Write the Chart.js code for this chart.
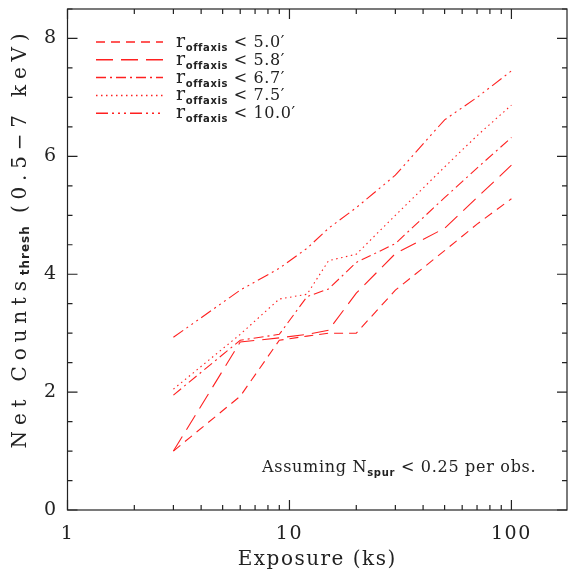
<!DOCTYPE html>
<html>
<head>
<meta charset="utf-8">
<script src="https://cdn.jsdelivr.net/npm/chart.js@4/dist/chart.umd.min.js"></script>
<style>
  html, body { margin: 0; padding: 0; background: #fff; }
  #wrap { width: 569px; height: 576px; }
</style>
</head>
<body>
<div id="wrap"><canvas id="chart" width="569" height="576"></canvas></div>
<script>
// exposure times (ks)
const exposures = [3, 6, 9, 12, 15, 20, 30, 50, 70, 100];

// threshold net counts for each off-axis radius cut
const r50 = [1.0, 1.93, 2.88, 2.95, 3.0, 3.0, 3.73, 4.4, 4.85, 5.28];
const r58 = [1.0, 2.85, 2.92, 2.98, 3.05, 3.68, 4.35, 4.78, 5.3, 5.85];
const r67 = [1.95, 2.88, 2.98, 3.62, 3.75, 4.2, 4.52, 5.3, 5.8, 6.32];
const r75 = [2.05, 2.98, 3.58, 3.66, 4.23, 4.34, 5.0, 5.82, 6.35, 6.87];
const r100 = [2.93, 3.73, 4.1, 4.44, 4.78, 5.13, 5.68, 6.62, 7.0, 7.45];

const radii = ['5.0', '5.8', '6.7', '7.5', '10.0'];
const xTickLabels = [1, 10, 100];
const yTickLabels = [0, 2, 4, 6, 8];

const RED = '#ff2020';
const INK = '#222';
const SERIF = '"DejaVu Serif", serif';
const SUB = 'bold 10px "DejaVu Sans", sans-serif';

const series = [r50, r58, r67, r75, r100];
const dashes = [
    [9, 6],
    [17, 8],
    [10, 4, 2, 4],
    [1.5, 3.5],
    [12, 4, 2, 4, 2, 4, 2, 4]
];

const datasets = series.map((vals, i) => ({
    label: 'r < ' + radii[i],
    data: exposures.map((x, j) => ({ x: x, y: vals[j] })),
    borderColor: RED,
    borderWidth: 1.1,
    borderDash: dashes[i],
    pointRadius: 0,
    fill: false,
    tension: 0
}));

// draws sub-scripted text pieces in a row, returns total width
function drawParts(ctx, parts, x, y, measureOnly) {
    let cx = x;
    parts.forEach(p => {
        ctx.font = p.font;
        if (p.spacing) ctx.letterSpacing = p.spacing;
        if (!measureOnly) ctx.fillText(p.text, cx, y + (p.dy || 0));
        cx += ctx.measureText(p.text).width;
    });
    return cx - x;
}

const framePlugin = {
    id: 'frame',
    beforeDraw(chart) {
        chart.ctx.letterSpacing = '1.5px';
    },
    afterDraw(chart) {
        const ctx = chart.ctx;
        const a = chart.chartArea;
        const xs = chart.scales.x;
        const ys = chart.scales.y;
        ctx.save();
        ctx.strokeStyle = INK;
        ctx.lineWidth = 1.2;
        ctx.setLineDash([]);
        ctx.strokeRect(a.left, a.top, a.right - a.left, a.bottom - a.top);

        // y ticks, major every 2, minor every 0.5
        ctx.beginPath();
        for (let v = 0; v <= 8.5; v += 0.5) {
            const py = ys.getPixelForValue(v);
            const len = (v % 2 === 0) ? 10 : 5;
            ctx.moveTo(a.left, py); ctx.lineTo(a.left + len, py);
            ctx.moveTo(a.right, py); ctx.lineTo(a.right - len, py);
        }
        // x ticks on log scale
        for (let d = 1; d <= 100; d *= 10) {
            for (let m = 1; m <= 9; m++) {
                const v = d * m;
                if (v > xs.max) break;
                const px = xs.getPixelForValue(v);
                const len = m === 1 ? 10 : 5;
                ctx.moveTo(px, a.bottom); ctx.lineTo(px, a.bottom - len);
                ctx.moveTo(px, a.top); ctx.lineTo(px, a.top + len);
            }
        }
        ctx.stroke();

        // legend
        ctx.letterSpacing = '0.6px';
        chart.data.datasets.forEach((ds, i) => {
            const ly = 42 + i * 17.8;
            ctx.strokeStyle = ds.borderColor;
            ctx.lineWidth = 1.5;
            ctx.setLineDash(ds.borderDash);
            ctx.beginPath();
            ctx.moveTo(96, ly); ctx.lineTo(163, ly);
            ctx.stroke();
            ctx.fillStyle = INK;
            ctx.textBaseline = 'alphabetic';
            ctx.textAlign = 'left';
            drawParts(ctx, [
                { text: 'r', font: '19px ' + SERIF },
                { text: 'offaxis', font: SUB, dy: 4 },
                { text: ' < ' + radii[i] + '\u2032', font: '16px ' + SERIF }
            ], 176, ly + 5);
        });
        ctx.setLineDash([]);

        // note
        ctx.letterSpacing = '0.7px';
        drawParts(ctx, [
            { text: 'Assuming N', font: '16px ' + SERIF },
            { text: 'spur', font: SUB, dy: 4 },
            { text: ' < 0.25 per obs.', font: '16px ' + SERIF }
        ], 262, 472);

        // y title with subscript
        ctx.translate(21, 238);
        ctx.rotate(-Math.PI / 2);
        const parts = [
            { text: 'Net Counts', font: '20px ' + SERIF, spacing: '5.8px' },
            { text: 'thresh', font: 'bold 12px "DejaVu Sans", sans-serif', dy: 5, spacing: '1px' },
            { text: ' (0.5\u22127 keV)', font: '20px ' + SERIF, spacing: '5.8px' }
        ];
        const w = drawParts(ctx, parts, 0, 0, true);
        ctx.textBaseline = 'middle';
        drawParts(ctx, parts, -w / 2, 0);
        ctx.restore();
    }
};

Chart.defaults.font.family = SERIF;
Chart.defaults.color = INK;

new Chart(document.getElementById('chart'), {
    type: 'line',
    data: { datasets: datasets },
    options: {
        responsive: false,
        animation: false,
        layout: { padding: { top: 9, right: 2, left: 0, bottom: 0 } },
        plugins: { legend: { display: false }, tooltip: { enabled: false } },
        scales: {
            x: {
                type: 'logarithmic',
                min: 1,
                max: 178,
                grid: { display: false, drawTicks: false },
                border: { display: false },
                afterBuildTicks: s => { s.ticks = xTickLabels.map(v => ({ value: v })); },
                afterFit: s => {
                    s.height = 66;
                    s.paddingLeft = 0;
                    s.paddingRight = 0;
                },
                ticks: {
                    autoSkip: false,
                    maxRotation: 0,
                    padding: 13,
                    font: { size: 19 },
                    callback: v => String(v)
                },
                title: {
                    display: true,
                    text: 'Exposure (ks)',
                    font: { size: 20, lineHeight: 1.2 }
                }
            },
            y: {
                min: 0,
                max: 8.5,
                grid: { display: false, drawTicks: false },
                border: { display: false },
                afterBuildTicks: s => { s.ticks = yTickLabels.map(v => ({ value: v })); },
                afterFit: s => {
                    s.width = 67.5;
                    s.paddingTop = 0;
                    s.paddingBottom = 0;
                },
                ticks: {
                    padding: 10,
                    font: { size: 19 }
                }
            }
        }
    },
    plugins: [framePlugin]
});
</script>
</body>
</html>
